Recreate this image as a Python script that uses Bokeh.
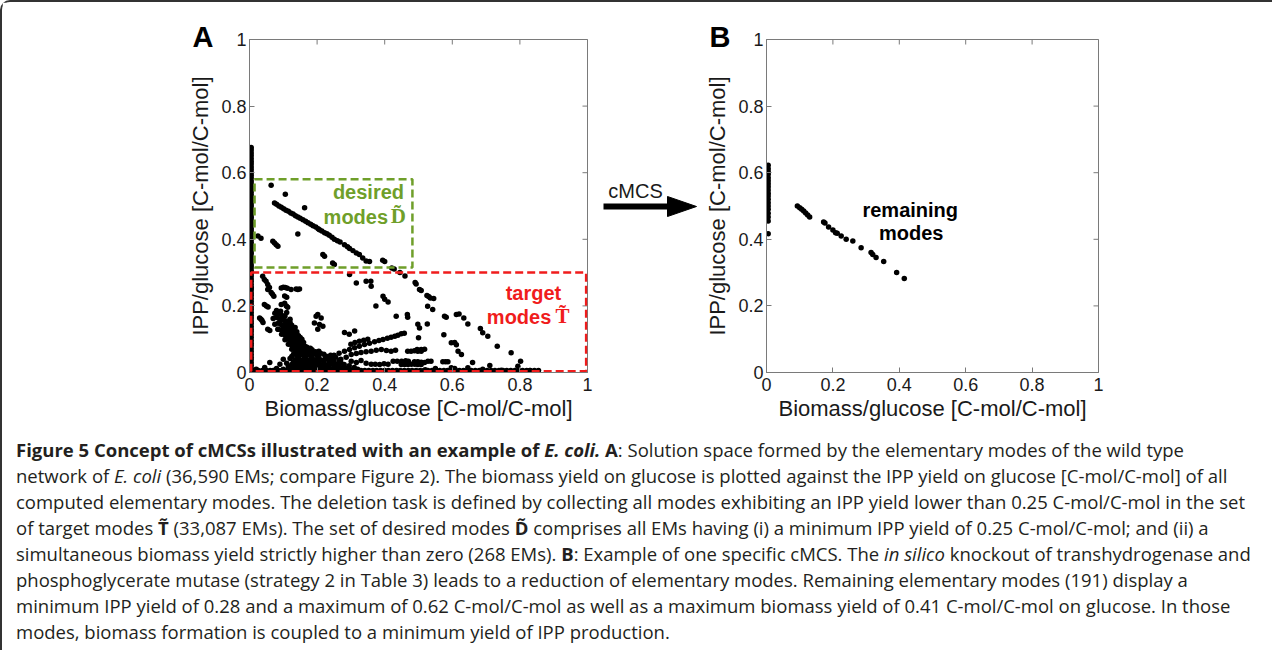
import math
from bokeh.plotting import figure
from bokeh.models import Range1d, Div, FixedTicker
from bokeh.layouts import row, column
from bokeh.embed import file_html
from bokeh.resources import INLINE
from bokeh.core.properties import value

# ---------------- data ----------------
TICKS = [0, 0.2, 0.4, 0.6, 0.8, 1]
TICK_LABELS = ["0", "0.2", "0.4", "0.6", "0.8", "1"]
X_LABEL = "Biomass/glucose [C-mol/C-mol]"
Y_LABEL = "IPP/glucose [C-mol/C-mol]"

# Panel A: modes with (near) zero biomass yield -> IPP yields
a_zero_biomass_x = 0.005
a_zero_biomass_ipp = [0.676, 0.668, 0.659, 0.651, 0.642, 0.634, 0.626, 0.617, 0.609, 0.600,
                      0.592, 0.584, 0.575, 0.567, 0.558, 0.550, 0.542, 0.533, 0.525, 0.516,
                      0.508, 0.500, 0.491, 0.483, 0.474, 0.466, 0.458, 0.449, 0.441, 0.432,
                      0.424, 0.416, 0.407, 0.399, 0.390, 0.382, 0.374, 0.365, 0.357, 0.348,
                      0.340, 0.332, 0.323, 0.315, 0.306, 0.298, 0.290, 0.281, 0.273, 0.264,
                      0.256, 0.248, 0.239, 0.231, 0.222, 0.214, 0.206, 0.197, 0.189, 0.180,
                      0.172, 0.164, 0.155, 0.147, 0.138, 0.130, 0.122, 0.113, 0.105, 0.096,
                      0.088, 0.080, 0.071, 0.063, 0.054, 0.046, 0.038, 0.029, 0.021, 0.012, 0.005]
# Panel A: modes with (near) zero IPP yield -> biomass yields
a_zero_ipp_y = 0.006
a_zero_ipp_biomass = [0.003, 0.015, 0.026, 0.038, 0.050, 0.061, 0.073, 0.085, 0.096, 0.108,
                      0.120, 0.131, 0.143, 0.155, 0.166, 0.178, 0.190, 0.201, 0.213, 0.225,
                      0.236, 0.248, 0.260, 0.271, 0.283, 0.295, 0.306, 0.318, 0.330, 0.341,
                      0.353, 0.365, 0.376, 0.388, 0.400, 0.411, 0.423, 0.435, 0.446, 0.458,
                      0.470, 0.481, 0.493, 0.505, 0.516, 0.528, 0.540, 0.551, 0.563, 0.575,
                      0.586, 0.598, 0.610, 0.621, 0.633, 0.645, 0.656, 0.668, 0.680, 0.691,
                      0.703, 0.715, 0.726, 0.738, 0.750, 0.761, 0.773, 0.785, 0.796, 0.808,
                      0.820, 0.831, 0.843, 0.855]

# Panel A: modes inside the desired region (biomass, IPP)
a_desired_modes = [
    (0.064, 0.562), (0.106, 0.535), (0.163, 0.495),
    (0.074, 0.509), (0.080, 0.505), (0.087, 0.500), (0.094, 0.496), (0.101, 0.492), (0.108, 0.487),
    (0.115, 0.484), (0.122, 0.479), (0.129, 0.476), (0.136, 0.471), (0.143, 0.467), (0.150, 0.463),
    (0.158, 0.459), (0.166, 0.454), (0.173, 0.450), (0.181, 0.445), (0.188, 0.441), (0.196, 0.437),
    (0.203, 0.432), (0.207, 0.429), (0.214, 0.425), (0.222, 0.420), (0.229, 0.417), (0.236, 0.412),
    (0.244, 0.406), (0.251, 0.400), (0.260, 0.396), (0.268, 0.392), (0.281, 0.384), (0.290, 0.378),
    (0.296, 0.372), (0.306, 0.366), (0.316, 0.359), (0.325, 0.354), (0.335, 0.344), (0.345, 0.335),
    (0.355, 0.333), (0.394, 0.337), (0.400, 0.333), (0.421, 0.314), (0.428, 0.311),
    (0.025, 0.410), (0.034, 0.403), (0.069, 0.394), (0.074, 0.389), (0.079, 0.384), (0.084, 0.379),
    (0.143, 0.416), (0.217, 0.354), (0.222, 0.349), (0.246, 0.329), (0.251, 0.324),
]

# Panel A: modes in the upper part of the target region
a_target_upper = [
    (0.445, 0.300), (0.460, 0.290), (0.490, 0.270), (0.493, 0.266), (0.503, 0.249), (0.508, 0.246),
    (0.525, 0.231), (0.530, 0.228), (0.535, 0.224), (0.545, 0.222), (0.577, 0.169), (0.582, 0.166),
    (0.612, 0.174), (0.620, 0.176), (0.634, 0.164), (0.646, 0.146), (0.683, 0.132), (0.690, 0.119),
    (0.705, 0.109), (0.733, 0.079), (0.774, 0.059), (0.802, 0.034), (0.794, 0.019),
    (0.296, 0.294), (0.316, 0.269), (0.345, 0.274), (0.359, 0.274), (0.360, 0.259), (0.395, 0.229),
    (0.400, 0.220), (0.410, 0.212), (0.374, 0.200), (0.434, 0.169), (0.467, 0.174), (0.468, 0.166),
    (0.498, 0.145), (0.527, 0.199), (0.542, 0.189), (0.503, 0.134), (0.526, 0.146),
    (0.005, 0.254), (0.039, 0.289), (0.044, 0.279), (0.049, 0.274), (0.054, 0.264), (0.059, 0.255),
    (0.054, 0.249), (0.064, 0.240), (0.068, 0.235), (0.072, 0.229), (0.094, 0.254), (0.100, 0.256),
    (0.106, 0.255), (0.112, 0.253), (0.123, 0.249), (0.138, 0.251), (0.143, 0.249), (0.148, 0.251),
    (0.044, 0.204), (0.050, 0.200), (0.055, 0.197), (0.094, 0.204), (0.104, 0.208), (0.109, 0.200),
    (0.113, 0.196), (0.104, 0.230), (0.110, 0.226), (0.030, 0.164), (0.034, 0.160), (0.037, 0.156),
    (0.040, 0.150), (0.054, 0.130), (0.060, 0.126), (0.084, 0.130),
    (0.197, 0.169), (0.202, 0.174), (0.192, 0.149), (0.207, 0.144), (0.212, 0.164), (0.217, 0.139),
    (0.202, 0.130),
    (0.500, 0.104), (0.508, 0.069), (0.496, 0.069), (0.518, 0.070), (0.575, 0.113), (0.597, 0.089),
    (0.607, 0.090), (0.612, 0.083), (0.617, 0.064), (0.627, 0.054),
]

# Panel A: dense band of target modes at low IPP yield
a_target_band = [
    (0.075, 0.178), (0.085, 0.175), (0.095, 0.172), (0.105, 0.170), (0.080, 0.186), (0.092, 0.184),
    (0.070, 0.162), (0.080, 0.165), (0.090, 0.160), (0.100, 0.158), (0.110, 0.155), (0.120, 0.160),
    (0.075, 0.145), (0.085, 0.148), (0.095, 0.143), (0.105, 0.145), (0.115, 0.140), (0.125, 0.142),
    (0.135, 0.135), (0.085, 0.130), (0.095, 0.128), (0.105, 0.132), (0.115, 0.125), (0.125, 0.128),
    (0.140, 0.122), (0.095, 0.115), (0.105, 0.112), (0.115, 0.110), (0.125, 0.115), (0.135, 0.108),
    (0.145, 0.110), (0.105, 0.098), (0.115, 0.100), (0.125, 0.095), (0.135, 0.097), (0.148, 0.092),
    (0.155, 0.100), (0.115, 0.085), (0.125, 0.082), (0.135, 0.086), (0.145, 0.080), (0.155, 0.084),
    (0.165, 0.078), (0.125, 0.070), (0.135, 0.068), (0.145, 0.072), (0.155, 0.066), (0.165, 0.070),
    (0.175, 0.064), (0.185, 0.068), (0.130, 0.055), (0.140, 0.052), (0.150, 0.057), (0.160, 0.050),
    (0.170, 0.055), (0.180, 0.050), (0.190, 0.056), (0.200, 0.052), (0.210, 0.058), (0.220, 0.055),
    (0.100, 0.040), (0.120, 0.042), (0.135, 0.038), (0.145, 0.043), (0.155, 0.037), (0.165, 0.042),
    (0.175, 0.036), (0.185, 0.041), (0.195, 0.038), (0.205, 0.043), (0.215, 0.037), (0.225, 0.041),
    (0.235, 0.045), (0.245, 0.040), (0.255, 0.046), (0.090, 0.025), (0.110, 0.028), (0.125, 0.024),
    (0.140, 0.027), (0.150, 0.022), (0.160, 0.028), (0.170, 0.023), (0.180, 0.027), (0.190, 0.022),
    (0.200, 0.026), (0.210, 0.021), (0.220, 0.027), (0.230, 0.022), (0.240, 0.026), (0.250, 0.021),
    (0.260, 0.025), (0.270, 0.030), (0.280, 0.024), (0.080, 0.012), (0.100, 0.010), (0.120, 0.013),
    (0.135, 0.009), (0.150, 0.013), (0.160, 0.008), (0.170, 0.012), (0.180, 0.009), (0.190, 0.014),
    (0.200, 0.010), (0.210, 0.013), (0.220, 0.008), (0.230, 0.012), (0.240, 0.009), (0.250, 0.013),
    (0.260, 0.010), (0.270, 0.014), (0.280, 0.009), (0.290, 0.012), (0.300, 0.008),
    (0.020, 0.010), (0.045, 0.015), (0.060, 0.030), (0.070, 0.006),
    (0.110, 0.180), (0.100, 0.165), (0.090, 0.152), (0.110, 0.150), (0.120, 0.150), (0.100, 0.138),
    (0.110, 0.137), (0.120, 0.134), (0.130, 0.130), (0.100, 0.122), (0.110, 0.120), (0.120, 0.120),
    (0.130, 0.118), (0.140, 0.115), (0.110, 0.105), (0.120, 0.105), (0.130, 0.103), (0.140, 0.102),
    (0.150, 0.105), (0.120, 0.090), (0.130, 0.090), (0.140, 0.090), (0.150, 0.088), (0.160, 0.090),
    (0.130, 0.076), (0.140, 0.078), (0.150, 0.076), (0.160, 0.074), (0.170, 0.076), (0.180, 0.073),
    (0.135, 0.062), (0.145, 0.062), (0.155, 0.060), (0.165, 0.062), (0.175, 0.058), (0.185, 0.060),
    (0.195, 0.062), (0.205, 0.064), (0.125, 0.048), (0.145, 0.048), (0.165, 0.047), (0.185, 0.048),
    (0.205, 0.047), (0.225, 0.049), (0.240, 0.052), (0.130, 0.032), (0.145, 0.033), (0.160, 0.032),
    (0.175, 0.031), (0.190, 0.032), (0.205, 0.033), (0.220, 0.032), (0.235, 0.033), (0.250, 0.033),
    (0.265, 0.036), (0.115, 0.018), (0.130, 0.018), (0.145, 0.017), (0.160, 0.018), (0.175, 0.017),
    (0.190, 0.018), (0.205, 0.017), (0.220, 0.018), (0.235, 0.017), (0.250, 0.018), (0.265, 0.019),
    (0.280, 0.017), (0.295, 0.020), (0.310, 0.015), (0.320, 0.010),
]

# Panel A: rising bands and short rows of target modes
a_target_lower = [
    (0.230, 0.048), (0.250, 0.052), (0.265, 0.058), (0.281, 0.064), (0.296, 0.069), (0.311, 0.074),
    (0.325, 0.079), (0.340, 0.084), (0.355, 0.088), (0.370, 0.092), (0.383, 0.096), (0.395, 0.099),
    (0.408, 0.103), (0.419, 0.106), (0.430, 0.109), (0.439, 0.112), (0.449, 0.116), (0.458, 0.118),
    (0.270, 0.040), (0.286, 0.046), (0.301, 0.054), (0.316, 0.057), (0.330, 0.060), (0.345, 0.062),
    (0.360, 0.064), (0.375, 0.067), (0.390, 0.069), (0.405, 0.066), (0.419, 0.064), (0.432, 0.067),
    (0.300, 0.085), (0.312, 0.090), (0.325, 0.094), (0.338, 0.097), (0.350, 0.100), (0.281, 0.120),
    (0.295, 0.115), (0.311, 0.125),
    (0.301, 0.034), (0.316, 0.030), (0.330, 0.036), (0.345, 0.028), (0.360, 0.025), (0.372, 0.025),
    (0.385, 0.024), (0.398, 0.026), (0.410, 0.025), (0.425, 0.034), (0.437, 0.034), (0.450, 0.034),
    (0.462, 0.035), (0.470, 0.034), (0.449, 0.024), (0.459, 0.024), (0.469, 0.024), (0.479, 0.025),
    (0.489, 0.025), (0.498, 0.024), (0.508, 0.024), (0.468, 0.064), (0.478, 0.064), (0.488, 0.065),
    (0.498, 0.064), (0.508, 0.064), (0.488, 0.032), (0.498, 0.032), (0.508, 0.031), (0.518, 0.030),
    (0.528, 0.034), (0.537, 0.034), (0.572, 0.032), (0.580, 0.032), (0.587, 0.032), (0.597, 0.014),
    (0.607, 0.012), (0.646, 0.014), (0.711, 0.021), (0.745, 0.007), (0.829, 0.006), (0.550, 0.012),
    (0.520, 0.008), (0.660, 0.030), (0.690, 0.010),
]

# Panel B: remaining modes after the cMCS
b_zero_biomass_x = 0.005
b_zero_biomass_ipp = [0.622, 0.612, 0.603, 0.595, 0.585, 0.576, 0.567, 0.558, 0.548, 0.538,
                      0.530, 0.520, 0.510, 0.500, 0.490, 0.478, 0.467, 0.455, 0.417]
b_remaining_modes = [
    (0.093, 0.500), (0.100, 0.495), (0.106, 0.490), (0.112, 0.485), (0.118, 0.479), (0.124, 0.473),
    (0.130, 0.467), (0.172, 0.452), (0.176, 0.449), (0.187, 0.437), (0.200, 0.428), (0.208, 0.420),
    (0.213, 0.418), (0.225, 0.410), (0.240, 0.400), (0.260, 0.395), (0.285, 0.375), (0.315, 0.360),
    (0.320, 0.354), (0.330, 0.345), (0.353, 0.333), (0.392, 0.300), (0.415, 0.282),
]

# Region boxes (biomass left/right, IPP bottom/top)
desired_box = dict(left=0.015, right=0.482, bottom=0.315, top=0.58)
target_box = dict(left=0.005, right=0.996, bottom=0.004, top=0.30)

CAPTION_LINES = [
    "<b>Figure 5 Concept of cMCSs illustrated with an example of <i>E. coli.</i> A</b>: "
    "Solution space formed by the elementary modes of the wild type",
    "network of <i>E. coli</i> (36,590 EMs; compare Figure 2). The biomass yield on glucose is "
    "plotted against the IPP yield on glucose [C-mol/C-mol] of all",
    "computed elementary modes. The deletion task is defined by collecting all modes exhibiting "
    "an IPP yield lower than 0.25 C-mol/C-mol in the set",
    "of target modes <b>T\u0303</b> (33,087 EMs). The set of desired modes <b>D\u0303</b> comprises "
    "all EMs having (i) a minimum IPP yield of 0.25 C-mol/C-mol; and (ii) a",
    "simultaneous biomass yield strictly higher than zero (268 EMs). <b>B</b>: Example of one "
    "specific cMCS. The <i>in silico</i> knockout of transhydrogenase and",
    "phosphoglycerate mutase (strategy 2 in Table 3) leads to a reduction of elementary modes. "
    "Remaining elementary modes (191) display a",
    "minimum IPP yield of 0.28 and a maximum of 0.62 C-mol/C-mol as well as a maximum biomass "
    "yield of 0.41 C-mol/C-mol on glucose. In those",
    "modes, biomass formation is coupled to a minimum yield of IPP production.",
]

# ---------------- styling ----------------
GREY = "#7a7a7a"
FONT = "Liberation Sans"
GREEN = "#6f9f2a"
RED = "#f01c1c"


def style_axis(ax, label_standoff, axis_standoff):
    ax.ticker = FixedTicker(ticks=TICKS)
    ax.major_label_overrides = dict(zip(TICKS, TICK_LABELS))
    ax.major_tick_in = 5
    ax.major_tick_out = 0
    ax.minor_tick_in = 0
    ax.minor_tick_out = 0
    ax.major_tick_line_color = GREY
    ax.axis_line_color = GREY
    ax.major_label_text_font = FONT
    ax.major_label_text_font_size = "18px"
    ax.major_label_text_color = "#1a1a1a"
    ax.major_label_standoff = label_standoff
    ax.axis_label_text_font = FONT
    ax.axis_label_text_font_size = "22px"
    ax.axis_label_text_font_style = "normal"
    ax.axis_label_text_color = "#1a1a1a"
    ax.axis_label_standoff = axis_standoff


def make_panel(width, height, mbl, mbr, mbt, mbb, panel_letter):
    p = figure(width=width, height=height, x_range=Range1d(0, 1), y_range=Range1d(0, 1),
               output_backend="svg", toolbar_location=None,
               min_border_left=mbl, min_border_right=mbr,
               min_border_top=mbt, min_border_bottom=mbb)
    p.xgrid.visible = False
    p.ygrid.visible = False
    p.outline_line_color = GREY
    p.background_fill_color = "white"
    p.border_fill_color = "white"
    p.xaxis[0].axis_label = X_LABEL
    p.yaxis[0].axis_label = Y_LABEL
    style_axis(p.xaxis[0], 5, 2)
    style_axis(p.yaxis[0], 3, 5)
    # inward ticks on the top and right frame edges
    p.scatter(TICKS, [1] * len(TICKS), marker="dash", angle=math.pi / 2, size=10,
              line_color=GREY, line_width=1)
    p.scatter([1] * len(TICKS), TICKS, marker="dash", size=10, line_color=GREY, line_width=1)
    # panel letter as the figure title
    p.title.text = panel_letter
    p.title.text_font = FONT
    p.title.text_font_size = "29px"
    p.title.text_font_style = "bold"
    p.title.text_color = "black"
    p.title.align = "left"
    p.title.offset = -57
    p.title.vertical_align = "bottom"
    p.title.standoff = -26
    return p


def dots(p, pts):
    p.scatter([q[0] for q in pts], [q[1] for q in pts], size=5.5, marker="circle",
              fill_color="black", line_color=None)


def lab(p, x, y, text, size, color="black", bold=True, font=FONT, align="center"):
    p.text(x=[x], y=[y], text=[text], text_font=value(font), text_font_size=size,
           text_color=color, text_font_style="bold" if bold else "normal",
           text_align=align, text_baseline="middle")


ROW_H = 427
TOP = 37

# ---------------- panel A ----------------
pa = make_panel(598, ROW_H, 247, 13, TOP, ROW_H - TOP - 333, "A")
pa.scatter([a_zero_biomass_x] * len(a_zero_biomass_ipp), a_zero_biomass_ipp, size=5.5,
           marker="circle", fill_color="black", line_color=None)
pa.scatter(a_zero_ipp_biomass, [a_zero_ipp_y] * len(a_zero_ipp_biomass), size=5.5,
           marker="circle", fill_color="black", line_color=None)
for group in (a_desired_modes, a_target_upper, a_target_band, a_target_lower):
    dots(pa, group)

pa.quad(left=[desired_box["left"]], right=[desired_box["right"]],
        bottom=[desired_box["bottom"]], top=[desired_box["top"]],
        fill_color=None, line_color=GREEN, line_width=2.5, line_dash="8 4")
pa.quad(left=[target_box["left"]], right=[target_box["right"]],
        bottom=[target_box["bottom"]], top=[target_box["top"]],
        fill_color=None, line_color=RED, line_width=2.5, line_dash="8 4")

lab(pa, 0.352, 0.541, "desired", "20px", GREEN)
lab(pa, 0.410, 0.468, "modes", "20px", GREEN, align="right")
lab(pa, 0.418, 0.470, "D\u0303", "21px", GREEN, font="Liberation Serif", align="left")
lab(pa, 0.840, 0.240, "target", "20px", RED)
lab(pa, 0.893, 0.167, "modes", "20px", RED, align="right")
lab(pa, 0.905, 0.169, "T\u0303", "21px", RED, font="Liberation Serif", align="left")

# ---------------- arrow between panels ----------------
# pixel-like coordinate box for the connector area (frame aligned with the panels, top-down)
pm = figure(width=102, height=ROW_H, x_range=Range1d(600, 702), y_range=Range1d(378, 45),
            output_backend="svg", toolbar_location=None,
            x_axis_location=None, y_axis_location=None,
            min_border_left=0, min_border_right=0, min_border_top=0, min_border_bottom=0)
pm.grid.visible = False
pm.outline_line_color = None
pm.background_fill_color = "white"
pm.border_fill_color = "white"
pm.segment(x0=[603], y0=[212], x1=[671], y1=[212], line_width=6, line_color="black")
pm.patch(x=[667, 696, 667], y=[202, 212, 222], fill_color="black", line_color="black")
pm.text(x=[635], y=[196], text=["cMCS"], text_font=value(FONT), text_font_size="20px",
        text_color="#1a1a1a", text_align="center", text_baseline="middle")

# ---------------- panel B ----------------
pb = make_panel(563, ROW_H, 59, 167, TOP, ROW_H - TOP - 335, "B")
pb.scatter([b_zero_biomass_x] * len(b_zero_biomass_ipp), b_zero_biomass_ipp, size=5.5,
           marker="circle", fill_color="black", line_color=None)
dots(pb, b_remaining_modes)
lab(pb, 0.433, 0.488, "remaining", "20px")
lab(pb, 0.436, 0.420, "modes", "20px")

# ---------------- caption ----------------
caption_html = ('<div style="font-family:\'Open Sans\';font-size:18.5px;line-height:26px;'
                'color:#231f20;white-space:nowrap;padding-left:9px;padding-top:3px;">'
                + "<br>".join(CAPTION_LINES) + "</div>")
caption = Div(text=caption_html, width=1260, height=211)

layout = column(row(pa, pm, pb), caption,
                styles={"border-top": "2px solid #333", "border-left": "2px solid #333",
                        "border-top-left-radius": "10px"})

open("out.html", "w").write(file_html(layout, INLINE))
